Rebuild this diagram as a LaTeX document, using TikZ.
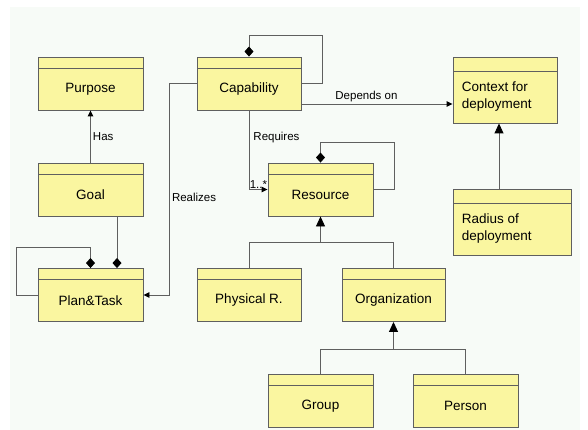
\documentclass[tikz,border=0pt]{standalone}
\usepackage{fontspec}
\setmainfont{Liberation Sans}
\usetikzlibrary{arrows.meta}

\definecolor{boxyellow}{RGB}{250,246,160}
\definecolor{linegray}{RGB}{95,95,95}
\definecolor{backpaper}{RGB}{247,251,247}

\tikzset{
  classbox/.style={draw=linegray, line width=0.9pt, fill=boxyellow, inner sep=0pt,
    minimum width=105pt, minimum height=53pt,
    path picture={\draw[linegray, line width=0.9pt]
      ([yshift=-#1]path picture bounding box.north west) --
      ([yshift=-#1]path picture bounding box.north east);}},
  classbox/.default=11pt,
  classname/.style={inner sep=0pt, font=\fontsize{13.5}{17}\selectfont},
  rellabel/.style={inner sep=2pt, font=\fontsize{11.5}{14}\selectfont},
  conn/.style={draw=linegray, line width=0.9pt},
  assoc/.style={conn, -{Triangle[length=6pt,width=5.5pt,color=black]}},
  gen/.style={conn, -{Triangle[length=10pt,width=9pt,color=black]}},
  aggr/.style={conn, {Diamond[length=10pt,width=9pt,color=black]}-},
}

\begin{document}
\begin{tikzpicture}[x=1pt, y=-1pt]
    \useasboundingbox (0,0) rectangle (588,430);
    \fill[backpaper] (10,7) rectangle (580,430);

    % classes
    \node[classbox] (purpose) at (90.5,83.5) {};
    \node[classbox] (goal) at (90.5,189.5) {};
    \node[classbox] (plantask) at (90.5,295) {};
    \node[classbox, minimum width=104pt] (capability) at (249,83.5) {};
    \node[classbox=14pt, minimum width=104pt, minimum height=66pt] (context) at (505,90) {};
    \node[classbox] (resource) at (320.5,189.5) {};
    \node[classbox=14pt, minimum width=118pt, minimum height=66pt] (radius) at (512,222) {};
    \node[classbox, minimum width=104pt] (physical) at (249,295) {};
    \node[classbox, minimum width=103pt] (organization) at (393.5,295) {};
    \node[classbox, minimum height=53pt] (group) at (320.5,400.5) {};
    \node[classbox, minimum height=53pt] (person) at (465.5,400.5) {};

    \node[classname] (purpose-t) at ([yshift=-5.5pt]purpose.center) {Purpose};
    \node[classname] (goal-t) at ([yshift=-5.5pt]goal.center) {Goal};
    \node[classname] (plantask-t) at ([yshift=-5.5pt]plantask.center) {Plan\&Task};
    \node[classname] (capability-t) at ([yshift=-5.5pt]capability.center) {Capability};
    \node[classname, anchor=west, align=left] (context-t) at ([xshift=9pt,yshift=-7pt]context.west) {Context for\\deployment};
    \node[classname] (resource-t) at ([yshift=-5.5pt]resource.center) {Resource};
    \node[classname, anchor=west, align=left] (radius-t) at ([xshift=9pt,yshift=-7pt]radius.west) {Radius of\\deployment};
    \node[classname] (physical-t) at ([yshift=-5.5pt]physical.center) {Physical R.};
    \node[classname] (organization-t) at ([yshift=-5.5pt]organization.center) {Organization};
    \node[classname] (group-t) at ([yshift=-5.5pt]group.center) {Group};
    \node[classname] (person-t) at ([yshift=-5.5pt]person.center) {Person};

    % associations
    \draw[assoc] (goal) -- node[rellabel, right, pos=0.5] (has-l) {Has} (purpose);
    \draw[aggr] ([xshift=26.5pt]plantask.north) -- ([xshift=26.5pt]goal.south);
    \draw[aggr] (plantask.north) -- ++(0,-21) -| ([xshift=-21pt]plantask.west) -- (plantask.west);
    \draw[aggr] (capability.north) -- ++(0,-21) -| ([xshift=21pt]capability.east) -- (capability.east);
    \draw[aggr] (resource.north) -- ++(0,-20) -| ([xshift=21pt]resource.east) -- (resource.east);

    \coordinate (dep) at ([yshift=-20.5pt]capability.east);
    \draw[assoc] (dep) -- node[rellabel, above, pos=0.43] (depends-l) {Depends on} (dep -| context.west);
    \draw[assoc] (capability.south) |- node[rellabel, right, pos=0.17, xshift=2pt] (requires-l) {Requires}
        node[rellabel, above left, pos=1, inner sep=1pt, xshift=1pt] (mult-l) {1..*} (resource.west);
    \draw[assoc] (capability.west) -- ++(-27,0) |- node[rellabel, right, pos=0.27] (realizes-l) {Realizes} (plantask.east);

    % generalizations
    \coordinate (gc) at ([xshift=-6pt]context.south);
    \draw[gen] (gc |- radius.north) -- (gc);
    \coordinate (rj) at ([yshift=-26pt]resource.south);
    \draw[gen] (rj) -- (resource.south);
    \draw[conn] (physical.north) |- (rj) -| (organization.north);
    \coordinate (oj) at ([yshift=-27pt]organization.south);
    \draw[gen] (oj) -- (organization.south);
    \draw[conn] (group.north) |- (oj) -| (person.north);
  \end{tikzpicture}
\end{document}
